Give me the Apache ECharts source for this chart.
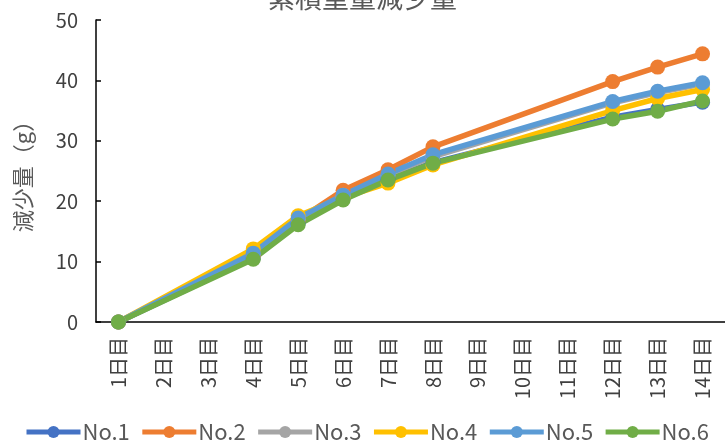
<!DOCTYPE html>
<html><head><meta charset="utf-8">
<script src="https://cdn.jsdelivr.net/npm/echarts@6/dist/echarts.min.js"></script>
<style>html,body{margin:0;padding:0;background:#fff}#c{width:725px;height:443px}</style>
</head><body><div id="c"></div>
<script>
const categories = ['1日目','2日目','3日目','4日目','5日目','6日目','7日目','8日目','9日目','10日目','11日目','12日目','13日目','14日目'];
const seriesNames = ['No.1','No.2','No.3','No.4','No.5','No.6'];
const no1 = [0,null,null,10.6,16.3,20.4,23.6,26.4,null,null,null,33.9,35.2,36.4];
const no2 = [0,null,null,11.0,16.9,21.8,25.2,29.0,null,null,null,39.8,42.2,44.4];
const no3 = [0,null,null,11.2,17.0,21.0,24.3,27.4,null,null,null,36.3,38.0,39.4];
const no4 = [0,null,null,12.1,17.6,20.6,23.0,26.0,null,null,null,35.0,37.0,38.5];
const no5 = [0,null,null,11.4,17.2,21.0,24.5,27.7,null,null,null,36.5,38.2,39.6];
const no6 = [0,null,null,10.4,16.1,20.2,23.5,26.3,null,null,null,33.6,34.9,36.6];
const yTicks = {min:0, max:50, interval:10};
const colors = ['#4472C4','#ED7D31','#A5A5A5','#FFC000','#5B9BD5','#70AD47'];
const allData = [no1,no2,no3,no4,no5,no6];
const font = '"Noto Sans CJK JP", sans-serif';
const chart = echarts.init(document.getElementById('c'));
chart.setOption({
  animation:false,
  color: colors,
  title:{text:'累積重量減少量', left:'center', top:-21, textStyle:{fontFamily:font, fontSize:27, fontWeight:'normal', color:'#595959'}},
  grid:{left:96, top:20, width:635, height:302},
  legend:{bottom:0, left:24, width:701, padding:0, itemWidth:54, itemHeight:15, itemGap:10,
    lineStyle:{width:5},
    textStyle:{fontFamily:font, fontSize:22, color:'#595959', padding:[0,0,0,-3]},
    data: seriesNames},
  xAxis:{type:'category', data:categories, boundaryGap:true,
    axisLine:{lineStyle:{color:'#000', width:1.5}}, axisTick:{show:false},
    axisLabel:{rotate:90, fontFamily:font, fontSize:20, color:'#404040', margin:15}},
  yAxis:{type:'value', min:yTicks.min, max:yTicks.max, interval:yTicks.interval,
    name:'減少量（g）', nameLocation:'middle', nameGap:62, nameRotate:90,
    nameTextStyle:{fontFamily:font, fontSize:22, color:'#595959'},
    axisLine:{show:true, lineStyle:{color:'#000', width:1.5}},
    axisTick:{show:true, inside:true, length:5, lineStyle:{color:'#000', width:1.5}},
    splitLine:{show:false},
    axisLabel:{fontFamily:font, fontSize:20, color:'#404040', margin:18}},
  series: seriesNames.map((n,i)=>({
    name:n, type:'line', data:allData[i], connectNulls:true,
    symbol:'circle', symbolSize:15, lineStyle:{width:5.5, color:colors[i]},
    itemStyle:{color:colors[i]}, clip:false
  }))
});
</script></body></html>
